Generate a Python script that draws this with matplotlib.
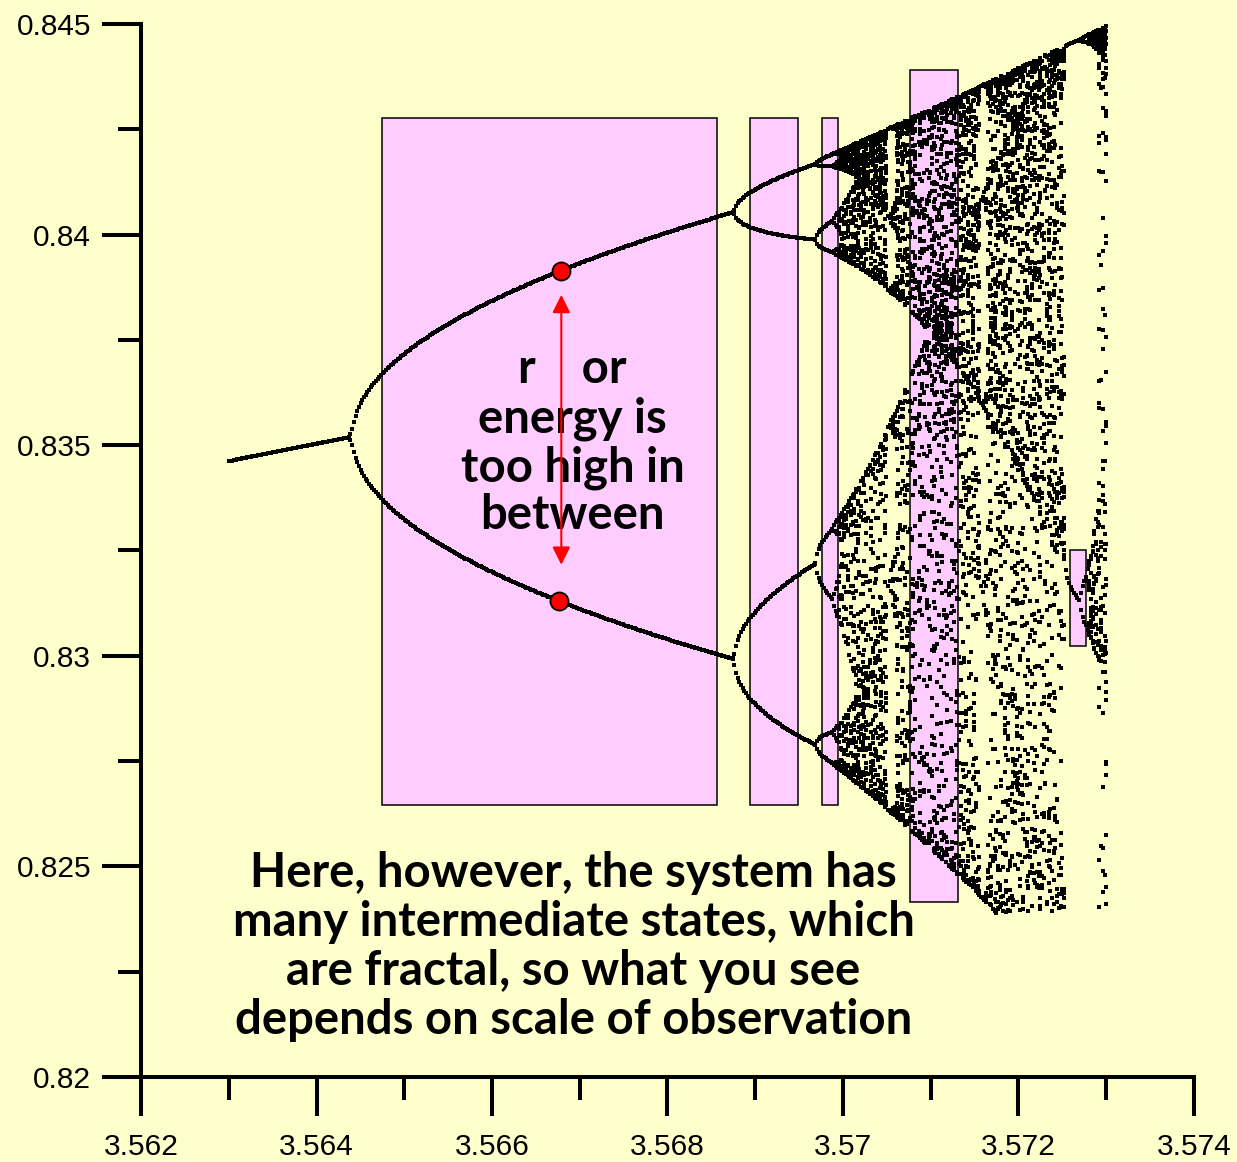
import numpy as np
import matplotlib
matplotlib.use("Agg")
import matplotlib.pyplot as plt
from matplotlib.patches import Rectangle
from matplotlib.ticker import MultipleLocator

# logistic map x -> r x (1 - x), drawn over the r range seen on the chart
rStart = 3.563
rStop = 3.573
nCols = 520      # r columns
nSkip = 6000     # transient iterations thrown away
nKeep = 380      # iterations plotted per column
xStart = 0.5
xLow = 0.8239    # the orbit is only drawn above this value
xHigh = 0.845

xTicks = [3.562, 3.564, 3.566, 3.568, 3.570, 3.572, 3.574]
xTickLabels = ["3.562", "3.564", "3.566", "3.568", "3.57", "3.572", "3.574"]
yTicks = [0.82, 0.825, 0.83, 0.835, 0.84, 0.845]
yTickLabels = ["0.82", "0.825", "0.83", "0.835", "0.84", "0.845"]

# pink boxes: left r, right r, bottom x, top x
boxLeft = [3.56475, 3.56894, 3.56976, 3.57076, 3.57259]
boxRight = [3.56857, 3.56949, 3.56994, 3.57131, 3.57277]
boxBottom = [0.82646, 0.82646, 0.82646, 0.82416, 0.83023]
boxTop = [0.84277, 0.84277, 0.84277, 0.84391, 0.83251]

# the two marked points on the period-16 branches
markR = [3.56679, 3.56676]
markX = [0.83914, 0.83130]

# red double arrow between them
arrowR = 3.56679
arrowTop = 0.83857
arrowBottom = 0.83216

midLines = ["r    or", "energy is", "too high in", "between"]
midBase = [0.83648, 0.83531, 0.83413, 0.83301]
midR = 3.56692

lowLines = ["Here, however, the system has",
            "many intermediate states, which",
            "are fractal, so what you see",
            "depends on scale of observation"]
lowBase = [0.82451, 0.82335, 0.82218, 0.82102]
lowR = 3.56693

bg = "#FFFFCC"
pink = "#FFCCFF"


def orbit():
    """ iterate the logistic map for every r column """
    r = np.linspace(rStart, rStop, nCols)
    x = np.full(nCols, xStart)
    for i in range(nSkip):
        x = r * x * (1 - x)
    rows = []
    for i in range(nKeep):
        x = r * x * (1 - x)
        rows.append(x.copy())
    xs = np.array(rows)
    rs = np.broadcast_to(r, xs.shape)
    keep = (xs >= xLow) & (xs <= xHigh)
    return rs[keep], xs[keep]


fig = plt.figure(figsize=(12.37, 11.62), dpi=100, facecolor=bg)
ax = fig.add_axes([0.114, 0.0731, 0.8512, 0.9063])
ax.set_facecolor(bg)

for l, rr, b, t in zip(boxLeft, boxRight, boxBottom, boxTop):
    ax.add_patch(Rectangle((l, b), rr - l, t - b, facecolor=pink,
                           edgecolor="black", linewidth=1.1, zorder=1))

rs, xs = orbit()
ax.scatter(rs, xs, marker="s", s=6.5, linewidths=0, color="black", zorder=2)

for i in range(len(midLines)):
    ax.text(midR, midBase[i], midLines[i], ha="center", va="baseline",
            fontsize=34, fontweight="bold", family="Lato", zorder=5)
for i in range(len(lowLines)):
    ax.text(lowR, lowBase[i], lowLines[i], ha="center", va="baseline",
            fontsize=34, fontweight="bold", family="Lato", zorder=5)

ax.annotate("", xy=(arrowR, arrowTop), xytext=(arrowR, arrowBottom),
            arrowprops=dict(arrowstyle="<|-|>,head_length=0.4,head_width=0.2",
                            mutation_scale=27, color="red", lw=1.5,
                            shrinkA=0, shrinkB=0), zorder=6)
ax.plot(markR, markX, "o", ms=13, mfc="red", mec="black", mew=1.3, zorder=7)

ax.set_xlim(xTicks[0], xTicks[-1])
ax.set_ylim(yTicks[0], yTicks[-1])
ax.set_xticks(xTicks)
ax.set_xticklabels(xTickLabels)
ax.set_yticks(yTicks)
ax.set_yticklabels(yTickLabels)
ax.xaxis.set_minor_locator(MultipleLocator(0.001))
ax.yaxis.set_minor_locator(MultipleLocator(0.0025))

for s in ["top", "right"]:
    ax.spines[s].set_visible(False)
for s in ["left", "bottom"]:
    ax.spines[s].set_linewidth(2.9)

ax.tick_params(which="major", length=28, width=2.9, labelsize=21.5)
ax.tick_params(which="minor", length=16.5, width=2.9)
ax.tick_params(axis="y", which="major", pad=8)
ax.tick_params(axis="x", which="major", pad=12)
for lab in ax.get_xticklabels() + ax.get_yticklabels():
    lab.set_family("Liberation Sans")

fig.savefig("out.png", dpi=100, facecolor=bg)
